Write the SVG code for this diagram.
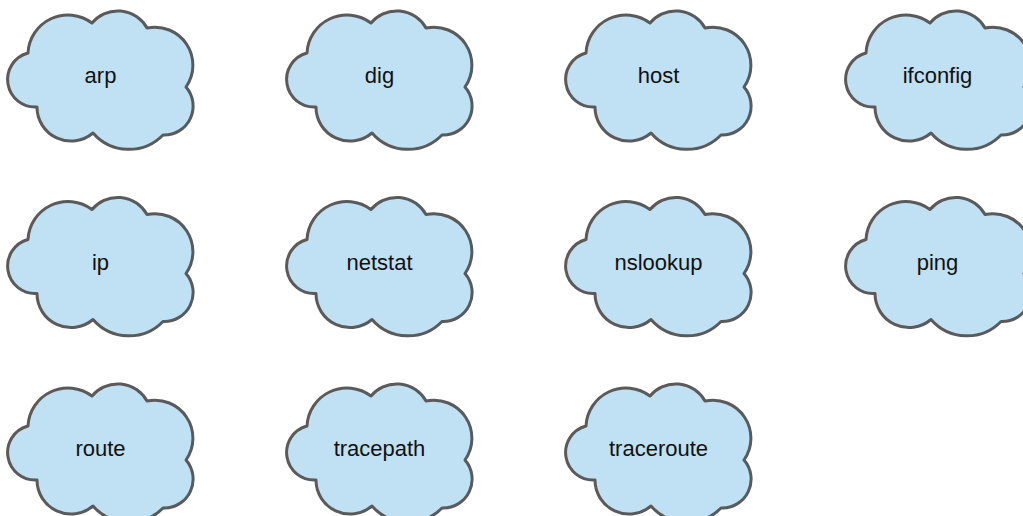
<svg xmlns="http://www.w3.org/2000/svg" xmlns:xlink="http://www.w3.org/1999/xlink" width="1023" height="516" viewBox="0 0 1023 516">
<style>
.cloud{fill:#c0e0f4;stroke:#5a5a5a;stroke-width:3;stroke-linejoin:round}
.lbl{font-family:"Liberation Sans",Arial,sans-serif;font-size:22px;fill:#111;text-anchor:middle}
</style>
<defs>
<path id="cloud" d="M28,53 A40,40 0 0 1 92,23 A33.5,33.5 0 0 1 147,28 A38,38 0 0 1 186,87 A29,29 0 0 1 163,135 A47.6,47.6 0 0 1 93,133 A34,34 0 0 1 37,107 A27.5,27.5 0 0 1 28,53 Z"/>
</defs>
<rect width="1023" height="516" fill="#ffffff"/>
<g id="connectors"></g>
<g id="node-arp" transform="translate(0,0)"><use xlink:href="#cloud" class="cloud"/><text class="lbl" x="100.5" y="83">arp</text></g>
<g id="node-dig" transform="translate(279,0)"><use xlink:href="#cloud" class="cloud"/><text class="lbl" x="100.5" y="83">dig</text></g>
<g id="node-host" transform="translate(558,0)"><use xlink:href="#cloud" class="cloud"/><text class="lbl" x="100.5" y="83">host</text></g>
<g id="node-ifconfig" transform="translate(838,0)"><use xlink:href="#cloud" class="cloud"/><text class="lbl" x="99.5" y="83">ifconfig</text></g>
<g id="node-ip" transform="translate(0,186.5)"><use xlink:href="#cloud" class="cloud"/><text class="lbl" x="100.5" y="83">ip</text></g>
<g id="node-netstat" transform="translate(279,186.5)"><use xlink:href="#cloud" class="cloud"/><text class="lbl" x="100.5" y="83">netstat</text></g>
<g id="node-nslookup" transform="translate(558,186.5)"><use xlink:href="#cloud" class="cloud"/><text class="lbl" x="100.5" y="83">nslookup</text></g>
<g id="node-ping" transform="translate(838,186.5)"><use xlink:href="#cloud" class="cloud"/><text class="lbl" x="99.5" y="83">ping</text></g>
<g id="node-route" transform="translate(0,373)"><use xlink:href="#cloud" class="cloud"/><text class="lbl" x="100.5" y="83">route</text></g>
<g id="node-tracepath" transform="translate(279,373)"><use xlink:href="#cloud" class="cloud"/><text class="lbl" x="100.5" y="83">tracepath</text></g>
<g id="node-traceroute" transform="translate(558,373)"><use xlink:href="#cloud" class="cloud"/><text class="lbl" x="100.5" y="83">traceroute</text></g>
</svg>
